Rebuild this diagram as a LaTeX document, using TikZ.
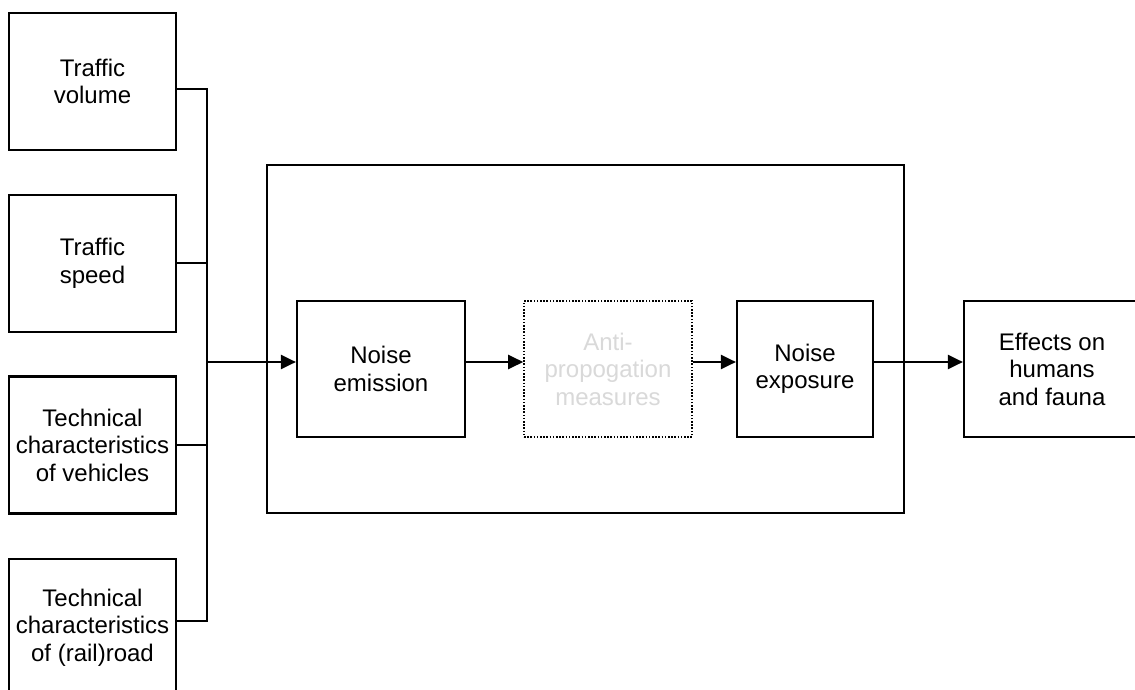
\documentclass[tikz,border=0pt]{standalone}
\usepackage{fontspec}
\setmainfont{Liberation Sans}
\usetikzlibrary{arrows.meta}
\definecolor{ghost}{HTML}{D9D9D9}
\begin{document}
\begin{tikzpicture}[x=1pt,y=-1pt,
  blk/.style={draw=black,line width=2.2pt,rectangle,align=center,inner sep=0pt,
    minimum width=167pt,minimum height=137pt,
    font=\fontsize{24}{27.5}\selectfont},
  midblk/.style={blk,minimum width=168pt,minimum height=136pt},
  ghostblk/.style={midblk,draw=black,line width=1.6pt,dash pattern=on 1.6pt off 1.6pt,text=ghost},
  wire/.style={line width=2.2pt},
  arr/.style={line width=2.2pt,-{Triangle[length=15pt,width=14pt]}}]
\useasboundingbox (0,0) rectangle (1135,690);
\fill[white] (0,0) rectangle (1135,690);
% left inputs
\node[blk] (tv) at (92.5,81.5) {Traffic\\volume};
\node[blk] (ts) at (92.5,263.5) {Traffic\\speed};
\node[blk] (tcv) at (92.5,445) {Technical\\characteristics\\of vehicles};
\node[blk] (tcr) at (92.5,627.5) {Technical\\characteristics\\of (rail)road};
% outer box
\node[draw=black,line width=2.2pt,rectangle,minimum width=637pt,minimum height=348pt,inner sep=0pt] (outer) at (585.5,339) {};
% inner blocks
\node[midblk] (ne) at (381,369) {Noise\\emission};
\node[ghostblk] (ap) at (608,369) {Anti-\\propogation\\measures};
\node[midblk,minimum width=136pt] (nx) at (805,369) {Noise\\exposure};
\node[blk,minimum width=176pt,minimum height=136pt] (ef) at (1052,369) {Effects on\\humans\\and fauna};
% junctions
\coordinate (j1) at (207,89);
\coordinate (j2) at (207,263);
\coordinate (j3) at (207,445);
\coordinate (j4) at (207,621);
\coordinate (jm) at (207,362);
\draw[wire] (tv.east |- j1) -- (j1) -- (j4) -- (tcr.east |- j4);
\draw[wire] (ts.east |- j2) -- (j2);
\draw[wire] (tcv.east |- j3) -- (j3);
\draw[arr] (jm) -- (jm -| ne.west);
\draw[arr] (ne.east |- jm) -- (jm -| ap.west);
\draw[arr] (ap.east |- jm) -- (jm -| nx.west);
\draw[arr] (nx.east |- jm) -- (jm -| ef.west);
\end{tikzpicture}
\end{document}
